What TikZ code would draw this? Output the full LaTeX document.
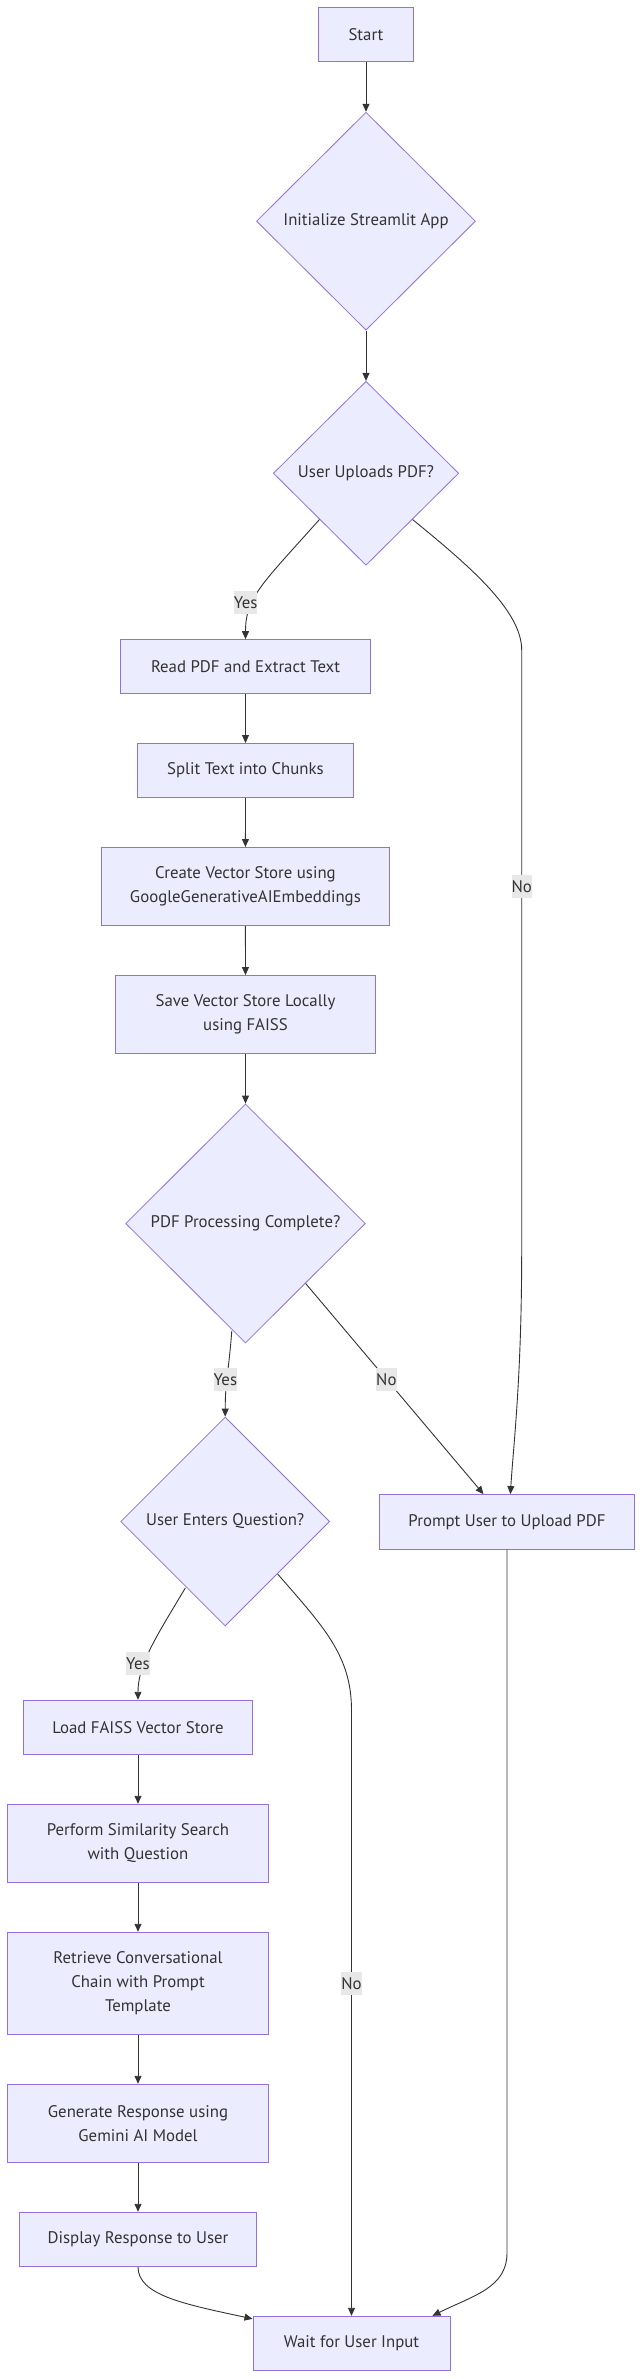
\documentclass[tikz,border=0pt]{standalone}
\usepackage{fontspec}
\setmainfont{PT Sans}
\usetikzlibrary{shapes.geometric,arrows.meta,calc}
\definecolor{nodefill}{HTML}{ECECFF}
\definecolor{nodeline}{HTML}{9370DB}
\definecolor{txtcol}{HTML}{333333}
\definecolor{edgecol}{HTML}{333333}
\definecolor{lblbg}{HTML}{E8E8E8}
\begin{document}
\begin{tikzpicture}[x=1pt,y=-1pt,
  box/.style={rectangle, draw=nodeline, fill=nodefill, line width=1pt, text=txtcol, align=center, inner sep=0pt, font=\fontsize{16.8}{24}\selectfont},
  dia/.style={diamond, aspect=1, draw=nodeline, fill=nodefill, line width=0.8pt, text=txtcol, align=center, inner sep=0pt, font=\fontsize{16.8}{24}\selectfont},
  flow/.style={draw=edgecol, line width=0.9pt, -{Triangle[length=8pt,width=7pt]}},
  lbl/.style={rectangle, fill=lblbg, text=txtcol, inner sep=0pt, minimum height=23pt, font=\fontsize{16.8}{24}\selectfont}
]
\useasboundingbox[fill=white] (0,0) rectangle (642,2379);

% nodes
\node[box, minimum width=95.4pt, minimum height=54.2pt] (start) at (366,34.6) {Start};
\node[dia, minimum width=219pt, minimum height=218pt] (init) at (366,221.2) {Initialize Streamlit App};
\node[dia, minimum width=185.4pt, minimum height=184pt] (upload) at (366,473.3) {User Uploads PDF?};
\node[box, minimum width=249.6pt, minimum height=54pt] (read) at (245.5,666.7) {Read PDF and Extract Text};
\node[box, minimum width=216pt, minimum height=54pt] (split) at (245.5,770.5) {Split Text into Chunks};
\node[box, minimum width=288pt, minimum height=78.2pt] (create) at (245.4,886.6) {Create Vector Store using\\GoogleGenerativeAIEmbeddings};
\node[box, minimum width=260.3pt, minimum height=78pt] (save) at (245.5,1014.6) {Save Vector Store Locally\\using FAISS};
\node[dia, minimum width=239.7pt, minimum height=239pt] (pdfok) at (245.5,1223.5) {PDF Processing Complete?};
\node[dia, minimum width=209pt, minimum height=209pt] (question) at (225.2,1521.5) {User Enters Question?};
\node[box, minimum width=255.3pt, minimum height=54.4pt] (prompt) at (507,1521.8) {Prompt User to Upload PDF};
\node[box, minimum width=228.5pt, minimum height=54.4pt] (load) at (138,1727.5) {Load FAISS Vector Store};
\node[box, minimum width=260.4pt, minimum height=78pt] (perform) at (138,1843.3) {Perform Similarity Search\\with Question};
\node[box, minimum width=260.4pt, minimum height=102pt] (retrieve) at (138,1983.3) {Retrieve Conversational\\Chain with Prompt\\Template};
\node[box, minimum width=260.4pt, minimum height=78pt] (generate) at (138,2123.3) {Generate Response using\\Gemini AI Model};
\node[box, minimum width=237.6pt, minimum height=54pt] (display) at (138,2239.3) {Display Response to User};
\node[box, minimum width=197pt, minimum height=54.4pt] (wait) at (351.5,2343.5) {Wait for User Input};

% helper coordinates
\coordinate (nA) at (521.7,650);
\coordinate (nB) at (521.7,1250);
\coordinate (nC) at (351.5,1710);
\coordinate (nD) at (507,2253);

% connectors
\draw[flow] (start) -- (init);
\draw[flow] (init) -- (upload);
\draw[flow] (upload.south west) .. controls +(-57,64) and +(0,-42) .. (read.north);
\draw[flow] (upload.south east) .. controls +(55,45) and +(0,-40) .. (nA) -- (nB) .. controls +(0,130) and +(3,-50) .. ([xshift=3.4pt]prompt.north);
\draw[flow] (read) -- (split);
\draw[flow] (split) -- (create);
\draw[flow] (create) -- (save);
\draw[flow] (save) -- (pdfok);
\draw[flow] ([xshift=-13.7pt,yshift=12.6pt]pdfok.south) .. controls +(-3,40) and +(0,-35) .. (question.north);
\draw[flow] (pdfok.south east) -- ([xshift=-23.5pt]prompt.north);
\draw[flow] ([xshift=-39.8pt,yshift=38.5pt]question.south) .. controls +(-30,50) and +(0,-35) .. (load.north);
\draw[flow] (question.south east) .. controls +(45,52) and +(0,-55) .. (nC) -- (wait.north);
\draw[flow] (load) -- (perform);
\draw[flow] (perform) -- (retrieve);
\draw[flow] (retrieve) -- (generate);
\draw[flow] (generate) -- (display);
\draw[flow] (prompt.south) -- (nD) .. controls +(0,35) and +(40,-20) .. ([xshift=-18pt]wait.north east);
\draw[flow] (display.south) .. controls +(0,28) and +(-70,-15) .. ([yshift=-3pt]wait.north west);

% edge labels
\node[lbl, minimum width=22.7pt] (yes1) at (245.7,602.7) {Yes};
\node[lbl, minimum width=18.5pt] (no1) at (521.8,886.5) {No};
\node[lbl, minimum width=22.7pt] (yes2) at (225.3,1379.8) {Yes};
\node[lbl, minimum width=18.7pt] (no2) at (386.4,1379.8) {No};
\node[lbl, minimum width=22.5pt] (yes3) at (138,1663.5) {Yes};
\node[lbl, minimum width=18.5pt] (no3) at (351.5,1983.6) {No};
\end{tikzpicture}
\end{document}
